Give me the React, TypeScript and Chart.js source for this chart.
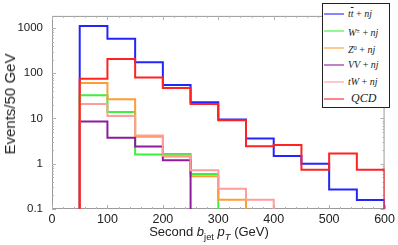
import React, { useEffect, useRef } from "react";
import { Chart, registerables } from "chart.js";

Chart.register(...registerables);

// ---- data ----
const binEdges = [50, 100, 150, 200, 250, 300, 350, 400, 450, 500, 550, 600];
const ttValues = [1100, 575, 176, 55, 23, 9.5, 3.6, 1.48, 1.0, 0.27, 0.158];
const wValues = [32.7, 14, 1.6, 1.65, 0.59, null, null, null, null, null, null];
const zValues = [61, 26.7, 3.95, 1.45, 0.53, 0.16, null, null, null, null, null];
const vvValues = [8.55, 3.76, 2.4, 1.2, null, null, null, null, null, null, null];
const twValues = [21, 11.4, 4.2, 1.5, 0.72, 0.28, 0.16, null, null, null, null];
const qcdValues = [76, 206, 81, 47, 20.8, 9.1, 2.45, 2.6, 0.74, 1.68, 0.74];

const xTickValues = [0, 100, 200, 300, 400, 500, 600];
const yTickValues = [0.1, 1, 10, 100, 1000];
const yTickLabels = ["0.1", "1", "10", "100", "1000"];

const X_MIN = 0;
const X_MAX = 600;
const Y_MIN = 0.1;
const Y_MAX = 1850;

const seriesNames = ["tt", "W", "Z", "VV", "tW", "QCD"];
const seriesValues = [ttValues, wValues, zValues, vvValues, twValues, qcdValues];
const seriesColors = ["#2424ff", "#3cf03c", "#ff9d33", "#8c1c9c", "#ff9c9c", "#ff2222"];

function histPoints(values: (number | null)[]) {
  const pts: { x: number; y: number }[] = [];
  let last = -1;
  values.forEach((v, i) => {
    if (v !== null) last = i;
  });
  pts.push({ x: binEdges[0], y: Y_MIN });
  for (let i = 0; i <= last; i++) {
    pts.push({ x: binEdges[i], y: values[i] as number });
  }
  pts.push({ x: binEdges[last + 1], y: values[last] as number });
  pts.push({ x: binEdges[last + 1], y: Y_MIN });
  return pts;
}

const framePlugin = {
  id: "frameTicks",
  beforeDatasetsDraw(chart: any) {
    const { ctx, chartArea, scales } = chart;
    const { left, right, top, bottom } = chartArea;
    ctx.save();
    ctx.strokeStyle = "#9a9a9a";
    ctx.lineWidth = 1;
    ctx.beginPath();
    ctx.rect(left + 0.5, top + 0.5, right - left - 1, bottom - top - 1);
    ctx.stroke();
    ctx.strokeStyle = "#b0b0b0";
    ctx.beginPath();
    for (let v = X_MIN; v <= X_MAX; v += 20) {
      const px = Math.round(scales.x.getPixelForValue(v)) + 0.5;
      const len = v % 100 === 0 ? 4 : 2;
      ctx.moveTo(px, bottom);
      ctx.lineTo(px, bottom - len);
      ctx.moveTo(px, top);
      ctx.lineTo(px, top + len);
    }
    for (let d = 0.1; d < Y_MAX; d *= 10) {
      for (let m = 1; m <= 9; m++) {
        const v = d * m;
        if (v > Y_MAX) break;
        const py = Math.round(scales.y.getPixelForValue(v)) + 0.5;
        const len = m === 1 ? 4 : 2;
        ctx.moveTo(left, py);
        ctx.lineTo(left + len, py);
        ctx.moveTo(right, py);
        ctx.lineTo(right - len, py);
      }
    }
    ctx.stroke();
    ctx.restore();
  },
};

const legendRows = [
  { key: "tt", node: (<span><i>t</i><i style={{ textDecoration: "overline" }}>t</i> + <i>nj</i></span>) },
  { key: "W", node: (<span><i>W</i><sup style={{ fontSize: "0.65em", verticalAlign: "0.5em" }}>±</sup> + <i>nj</i></span>) },
  { key: "Z", node: (<span><i>Z</i><sup style={{ fontSize: "0.65em", verticalAlign: "0.5em" }}>0</sup> + <i>nj</i></span>) },
  { key: "VV", node: (<span><i>VV</i> + <i>nj</i></span>) },
  { key: "tW", node: (<span><i>tW</i> + <i>nj</i></span>) },
  { key: "QCD", node: (<span style={{ fontSize: "12px", marginLeft: 3 }}><i>QCD</i></span>) },
];

export default function App() {
  const canvasRef = useRef<HTMLCanvasElement | null>(null);

  useEffect(() => {
    const canvas = canvasRef.current;
    if (!canvas) return;
    const datasets = seriesValues.map((vals, i) => ({
      label: seriesNames[i],
      data: histPoints(vals),
      borderColor: seriesColors[i],
      backgroundColor: seriesColors[i],
      borderWidth: 2,
      pointRadius: 0,
      stepped: "before" as const,
      fill: false,
      order: seriesValues.length - i,
    }));
    const chart = new Chart(canvas, {
      type: "line",
      data: { datasets },
      options: {
        animation: false,
        responsive: false,
        maintainAspectRatio: false,
        layout: { padding: { top: 4, right: 13, left: 0, bottom: 0 } },
        plugins: { legend: { display: false }, tooltip: { enabled: false } },
        scales: {
          x: {
            type: "linear",
            min: X_MIN,
            max: X_MAX,
            afterBuildTicks: (s: any) => {
              s.ticks = xTickValues.map((v) => ({ value: v }));
            },
            afterFit: (s: any) => {
              s.height = 36;
            },
            grid: { display: false, drawTicks: false },
            border: { display: false },
            ticks: {
              autoSkip: false,
              maxRotation: 0,
              padding: 3,
              color: "#222",
              font: { family: "Liberation Sans, Arial, sans-serif", size: 12.5 },
              callback: (v: any) => String(v),
            },
          },
          y: {
            type: "logarithmic",
            min: Y_MIN,
            max: Y_MAX,
            afterBuildTicks: (s: any) => {
              s.ticks = yTickValues.map((v) => ({ value: v }));
            },
            afterFit: (s: any) => {
              s.width = 52;
            },
            grid: { display: false, drawTicks: false },
            border: { display: false },
            ticks: {
              autoSkip: false,
              padding: 9,
              color: "#222",
              font: { family: "Liberation Sans, Arial, sans-serif", size: 11.5 },
              callback: (v: any) => {
                const idx = yTickValues.findIndex((t) => Math.abs(t - v) / t < 1e-6);
                return idx >= 0 ? yTickLabels[idx] : "";
              },
            },
          },
        },
      },
      plugins: [framePlugin],
    });
    return () => chart.destroy();
  }, []);

  return (
    <div style={{ position: "fixed", left: 0, top: 0, width: 398, height: 245, background: "#fff", overflow: "hidden" }}>
      <canvas ref={canvasRef} width={398} height={245} style={{ position: "absolute", left: 0, top: 0, width: 398, height: 245 }} />
      <div
        style={{
          position: "absolute",
          left: 0,
          top: 224,
          width: 418,
          textAlign: "center",
          fontFamily: "Liberation Sans, Arial, sans-serif",
          fontSize: 13,
          color: "#222",
          whiteSpace: "nowrap",
          lineHeight: "16px",
        }}
      >
        Second <i>b</i>
        <sub style={{ fontSize: "0.72em" }}>jet</sub> <i>p</i>
        <sub style={{ fontSize: "0.72em" }}><i>T</i></sub> (GeV)
      </div>
      <div
        style={{
          position: "absolute",
          left: 10,
          top: 104,
          transform: "translate(-50%, -50%) rotate(-90deg)",
          fontFamily: "Liberation Sans, Arial, sans-serif",
          fontSize: 15,
          color: "#222",
          whiteSpace: "nowrap",
          lineHeight: "18px",
        }}
      >
        Events/50 GeV
      </div>
      <div
        style={{
          position: "absolute",
          left: 322,
          top: 3,
          width: 66,
          height: 103,
          border: "1.5px solid #222",
          background: "#fff",
        }}
      >
        {legendRows.map((r, i) => (
          <div key={r.key} style={{ position: "absolute", left: 0, top: 1 + i * 17, width: 66, height: 17 }}>
            <div
              style={{
                position: "absolute",
                left: 1,
                top: 8,
                width: 20,
                height: 1.5,
                background: seriesColors[i],
                opacity: 0.55,
              }}
            />
            <div
              style={{
                position: "absolute",
                left: 25,
                top: 0,
                fontFamily: "Liberation Serif, DejaVu Serif, serif",
                fontSize: 10,
                lineHeight: "17px",
                color: "#222",
                whiteSpace: "nowrap",
              }}
            >
              {r.node}
            </div>
          </div>
        ))}
      </div>
    </div>
  );
}
